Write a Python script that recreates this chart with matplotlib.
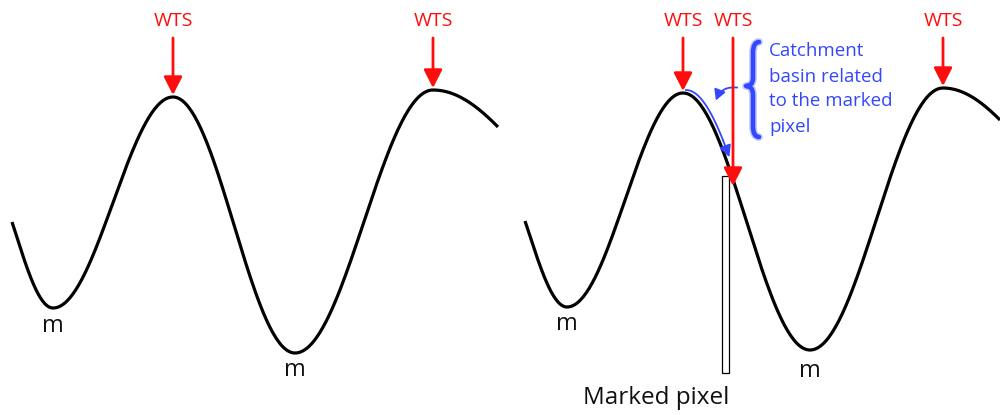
import numpy as np
import matplotlib
matplotlib.use("Agg")
import matplotlib.pyplot as plt
from matplotlib.path import Path
from matplotlib.patches import PathPatch, Rectangle, FancyArrowPatch

plt.rcParams['font.family'] = ['Open Sans', 'DejaVu Sans']

# --- data (pixel coordinates, y grows downward) ---
# extrema of the two waves, with the start / end points
left_knots_x = [12, 53, 173, 295, 433, 498]
left_knots_y = [222, 308, 97, 353, 90, 127]
right_knots_x = [525, 567, 683, 810, 943, 1000]
right_knots_y = [221, 307, 93, 350, 88, 120]
# fraction of a half-wave covered by the first / last segment
end_frac = [0.55, 0.35]

wts_x = [173, 433, 683, 733, 943]
wts_tip_y = [95, 88, 91, 186, 86]
min_x = [53, 295, 567, 810]
min_y = [326, 370, 324, 371]

pixel_x = [722, 729]
pixel_y = [176, 373]

catch_text = "Catchment\nbasin related\nto the marked\npixel"

RED = "#ff0d0d"
BLUE = "#3347ff"


def half_cos(x0, y0, x1, y1, n=80):
    t = np.linspace(0, 1, n)
    return x0 + (x1 - x0) * t, y0 + (y1 - y0) * (1 - np.cos(np.pi * t)) / 2


def part_cos(xe, ye, xo, yo, f, n=60):
    # from extremum (xe,ye) towards an outer point (xo,yo), covering fraction f of a half wave
    s = np.linspace(0, 1, n)
    g = (1 - np.cos(np.pi * f * s)) / (1 - np.cos(np.pi * f))
    return xe + (xo - xe) * s, ye + (yo - ye) * g


def wave(kx, ky):
    xs, ys = [], []
    x, y = part_cos(kx[1], ky[1], kx[0], ky[0], end_frac[0])
    xs.append(x[::-1]); ys.append(y[::-1])
    for i in range(1, len(kx) - 2):
        x, y = half_cos(kx[i], ky[i], kx[i + 1], ky[i + 1])
        xs.append(x); ys.append(y)
    x, y = part_cos(kx[-2], ky[-2], kx[-1], ky[-1], end_frac[1])
    xs.append(x); ys.append(y)
    return np.concatenate(xs), np.concatenate(ys)


fig = plt.figure(figsize=(10, 4.15), dpi=100)
ax = fig.add_axes([0, 0, 1, 1])
ax.set_xlim(0, 1000)
ax.set_ylim(415, 0)
ax.axis('off')

# marked pixel
ax.add_patch(Rectangle((pixel_x[0], pixel_y[0]), pixel_x[1] - pixel_x[0], pixel_y[1] - pixel_y[0],
                       facecolor='white', edgecolor='black', lw=0.9, zorder=2))

lx, ly = wave(left_knots_x, left_knots_y)
rx, ry = wave(right_knots_x, right_knots_y)
ax.plot(lx, ly, color='black', lw=2.3, zorder=3, solid_capstyle='butt')
ax.plot(rx, ry, color='black', lw=2.3, zorder=3, solid_capstyle='butt')

# WTS arrows
for x, ty in zip(wts_x, wts_tip_y):
    ax.annotate('', xy=(x, ty), xytext=(x, 38),
                arrowprops=dict(arrowstyle='-|>,head_length=0.55,head_width=0.28',
                                color=RED, lw=2.0, mutation_scale=20,
                                shrinkA=0, shrinkB=0), zorder=5)
    ax.text(x, 21, "WTS", color=RED, fontsize=14, ha='center', va='center')

# minima labels
for x, y in zip(min_x, min_y):
    ax.text(x, y, "m", color='#111111', fontsize=17, ha='center', va='center')

ax.text(656, 398, "Marked pixel", color='#111111', fontsize=17.5, ha='center', va='center')

# blue path along the curve towards the marked pixel
m = (rx >= 683) & (rx <= 727)
bx = rx[m] + 3
by = ry[m] - 3
ax.plot(bx[:-4], by[:-4], color=BLUE, lw=1.3, zorder=4)
ax.annotate('', xy=(bx[-1], by[-1]), xytext=(bx[-5], by[-5]),
            arrowprops=dict(arrowstyle='-|>,head_length=0.5,head_width=0.25',
                            color=BLUE, lw=1.3, mutation_scale=14,
                            shrinkA=0, shrinkB=0), zorder=4)

# small curved arrow (bulging upward, pointing down-left)
ax.add_patch(FancyArrowPatch((740, 88), (715, 103), connectionstyle='arc3,rad=0.45',
                             arrowstyle='-|>,head_length=0.45,head_width=0.25',
                             mutation_scale=14, color=BLUE, lw=1.3, zorder=4))

# brace
verts = [(759, 42), (753, 42), (753, 53), (753, 78), (753, 86), (746, 86),
         (753, 86), (753, 95), (753, 126), (753, 137), (759, 137)]
codes = [Path.MOVETO, Path.CURVE3, Path.CURVE3, Path.LINETO, Path.CURVE3, Path.CURVE3,
         Path.CURVE3, Path.CURVE3, Path.LINETO, Path.CURVE3, Path.CURVE3]
brace = Path(verts, codes)
ax.add_patch(PathPatch(brace, facecolor='none', edgecolor=BLUE, lw=5.5, alpha=0.3,
                       capstyle='round', joinstyle='round'))
ax.add_patch(PathPatch(brace, facecolor='none', edgecolor=BLUE, lw=3.3, capstyle='round',
                       joinstyle='round'))

ax.text(769, 89, catch_text, color=BLUE, fontsize=13.5, ha='left', va='center',
        linespacing=1.5)

fig.savefig("out.png", dpi=100)
